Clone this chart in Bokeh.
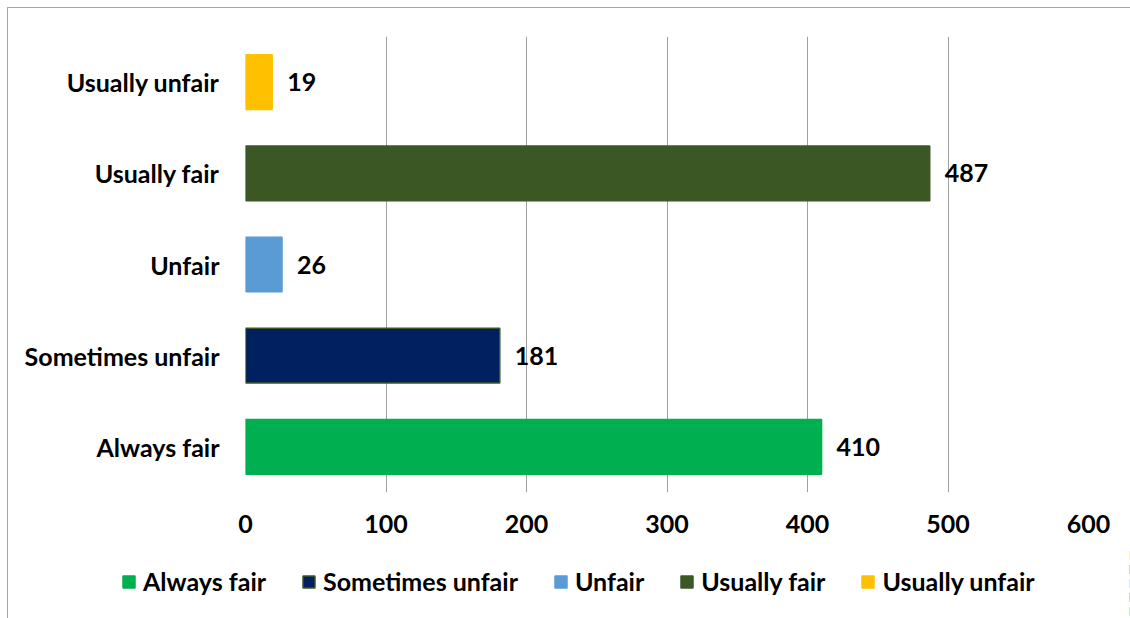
from bokeh.plotting import figure
from bokeh.models import ColumnDataSource, Legend, LegendItem, Range1d, FixedTicker
from bokeh.embed import file_html
from bokeh.resources import INLINE
from bokeh.core.properties import value

categories = ["Always fair", "Sometimes unfair", "Unfair", "Usually fair", "Usually unfair"]
counts = [410, 181, 26, 487, 19]
colors = ["#00B050", "#002060", "#5B9BD5", "#3B5824", "#FFC000"]
outline_colors = ["#00B050", "#3B5824", "#5B9BD5", "#3B5824", "#FFC000"]
x_ticks = [0, 100, 200, 300, 400, 500, 600]

FONT = "Lato"
FS = "25px"
GRAY = "#a6a6a6"

src = ColumnDataSource(dict(cat=categories, val=counts, color=colors,
                            lcolor=outline_colors, lbl=[str(v) for v in counts]))

H1 = 548
p = figure(width=1130, height=H1, y_range=categories, x_range=Range1d(0, 600),
           output_backend="svg", toolbar_location=None,
           min_border_left=245, min_border_right=42, min_border_top=36, min_border_bottom=H1 - 492)
p.styles = {"background": f"linear-gradient({GRAY},{GRAY}) 7px 7px / 1px calc(100% - 7px) no-repeat, "
                          f"linear-gradient({GRAY},{GRAY}) 7px 7px / calc(100% - 7px) 1px no-repeat, #ffffff"}
p.outline_line_color = None
p.background_fill_color = None
p.border_fill_color = None

r = p.hbar(y="cat", right="val", left=0, height=0.6, fill_color="color",
           line_color="lcolor", line_width=1.5, source=src)

p.text(x="val", y="cat", text="lbl", source=src, x_offset=15,
       text_baseline="middle", text_align="left",
       text_font=value(FONT), text_font_size=FS, text_font_style="bold", text_color="black")

p.xgrid.ticker = FixedTicker(ticks=x_ticks)
p.xgrid.grid_line_color = "#a0a0a0"
p.xgrid.grid_line_width = 1
p.ygrid.grid_line_color = None

p.xaxis.ticker = FixedTicker(ticks=x_ticks)
p.xaxis.axis_line_color = None
p.xaxis.major_tick_line_color = None
p.xaxis.minor_tick_line_color = None
p.xaxis.major_tick_out = 0
p.xaxis.minor_tick_out = 0
p.xaxis.major_label_standoff = 22
p.xaxis.major_label_text_font = FONT
p.xaxis.major_label_text_font_size = FS
p.xaxis.major_label_text_font_style = "bold"
p.xaxis.major_label_text_color = "black"

p.yaxis.axis_line_color = None
p.yaxis.major_tick_line_color = None
p.yaxis.minor_tick_line_color = None
p.yaxis.major_tick_out = 0
p.yaxis.minor_tick_out = 0
p.yaxis.major_label_standoff = 26
p.yaxis.major_label_text_font = FONT
p.yaxis.major_label_text_font_size = FS
p.yaxis.major_label_text_font_style = "bold"
p.yaxis.major_label_text_color = "black"

# legend strip (same data, bars kept outside its visible x range)
H2 = 618 - H1
q = figure(width=1130, height=H2, y_range=categories, x_range=Range1d(-1100, -1000),
           output_backend="svg", toolbar_location=None,
           x_axis_type=None, y_axis_type=None,
           min_border_left=0, min_border_right=0, min_border_top=0, min_border_bottom=0)
q.styles = {"background": f"linear-gradient({GRAY},{GRAY}) 7px 0 / 1px 100% no-repeat, #ffffff"}
q.outline_line_color = None
q.background_fill_color = None
q.border_fill_color = None
q.xgrid.visible = False
q.ygrid.visible = False
r2 = q.hbar(y="cat", right="val", left=0, height=0.6, fill_color="color",
            line_color="lcolor", line_width=1.5, source=src)

items = [LegendItem(label=c, renderers=[r2], index=i) for i, c in enumerate(categories)]
legend = Legend(items=items, orientation="horizontal", location=(121, 22),
                glyph_width=15, glyph_height=15, label_standoff=7, spacing=35,
                padding=0, margin=0, border_line_color=None, background_fill_alpha=0,
                label_text_font=FONT, label_text_font_size=FS, label_text_font_style="bold",
                label_text_color="black")
q.add_layout(legend, "center")

open("out.html", "w").write(file_html([p, q], INLINE))
